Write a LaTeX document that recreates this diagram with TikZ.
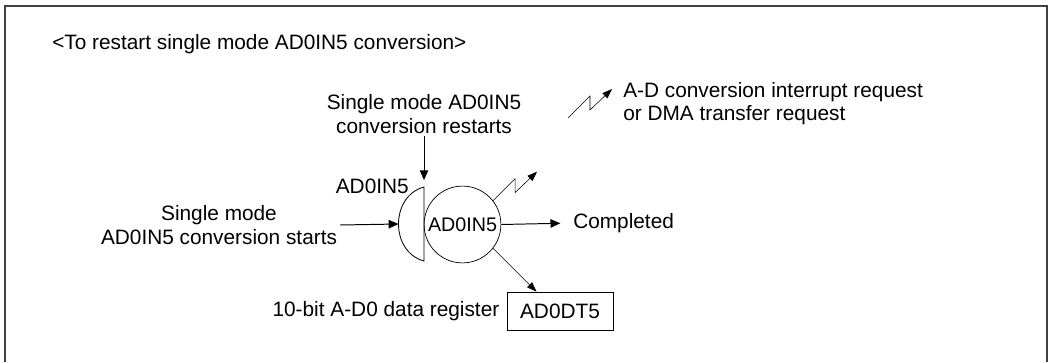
\documentclass[tikz,border=0pt]{standalone}
\usepackage{fontspec}
\setmainfont{Liberation Sans}
\usetikzlibrary{arrows.meta,calc}

\tikzset{
  arr/.style={line width=0.7pt, -{Triangle[length=7pt,width=6pt]}},
  thinarr/.style={line width=0.4pt, -{Triangle[length=7pt,width=5pt]}},
  frame/.style={line width=1.3pt, black!75},
  bolt/.pic={\draw[thinarr] (0,0) -- (22,-22) -- (22,-8) -- (44,-29);}
}

\begin{document}
\begin{tikzpicture}[x=0.025cm, y=-0.025cm, font=\fontsize{14.8}{16.5}\selectfont]
  \useasboundingbox (0,0) rectangle (1049,362);
  % Frame
  \draw[frame] (5,362) |- (1047,6) -- (1047,362);

  \node[anchor=west, inner sep=0] (title) at (52,44) {<To restart single mode AD0IN5 conversion>};

  % Legend
  \pic at (568,118) {bolt};
  \node[anchor=west, align=left, inner sep=0] (legend) at (623,104)
    {A-D conversion interrupt request\\or DMA transfer request};

  % Converter
  \node[circle, draw, line width=0.5pt, minimum size=1.92cm, inner sep=0,
        font=\fontsize{14}{16}\selectfont] (conv) at (462.5,224.5) {AD0IN5};
  \draw[line width=0.6pt] (424,187) .. controls (390,196) and (390,252) .. (424,261) -- cycle;
  \coordinate (dleft) at (398.5,224);
  \coordinate (dtop) at (424,187);
  \node[anchor=east, inner sep=0] (chan) at (409,186) {AD0IN5};

  % Inputs
  \node[align=center, inner sep=2pt] (restart) at (424,114) {Single mode AD0IN5\\conversion restarts};
  \draw[arr, shorten >=7\pgflinewidth] (restart.south) -- (dtop);
  \node[align=center, inner sep=2pt] (start) at (219,225) {Single mode\\AD0IN5 conversion starts};
  \draw[arr] (start.east) -- (dleft);

  % Outputs
  \node[anchor=west, inner sep=0] (done) at (573,223) {Completed};
  \draw[arr, shorten >=9pt] (conv.east) -- (done.west);
  \pic at (conv.38) {bolt};
  \node[draw, line width=0.5pt, minimum width=2.65cm, minimum height=0.95cm] (dt5) at (560,311) {AD0DT5};
  \node[anchor=east, inner sep=0] (reg) at ([xshift=-5pt]dt5.west) {10-bit A-D0 data register};
  \draw[thinarr] (conv.-38) -- ($(dt5.north west)!0.28!(dt5.north east)$);
\end{tikzpicture}
\end{document}
